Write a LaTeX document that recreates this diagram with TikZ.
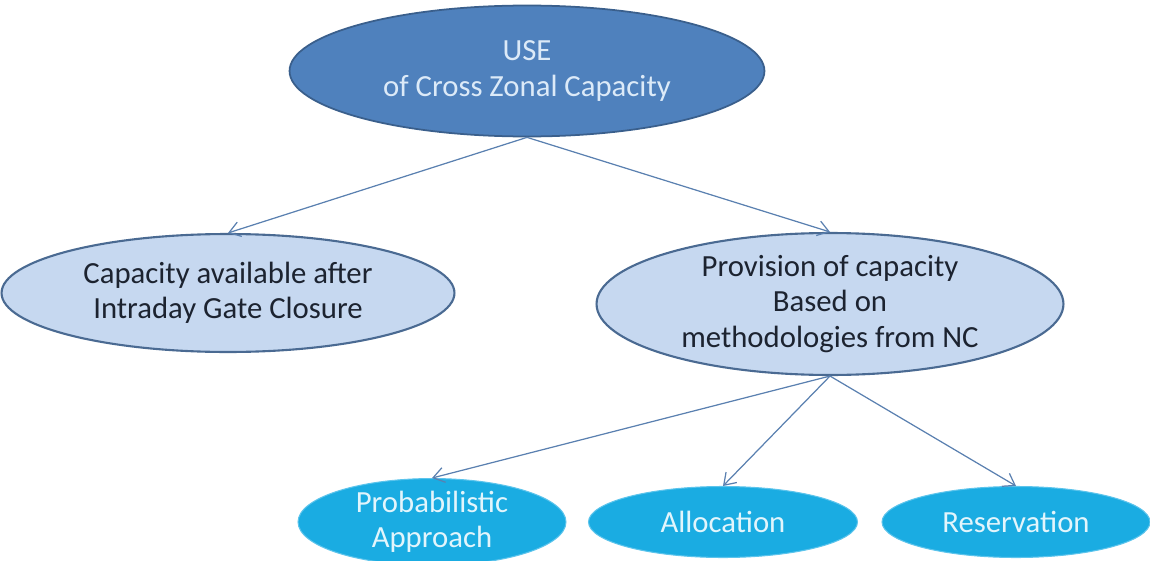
\documentclass[tikz,border=0pt]{standalone}
\usepackage{fontspec}
\setmainfont{Carlito}
\usetikzlibrary{shapes.geometric, arrows.meta}
\definecolor{topfill}{HTML}{4F81BD}
\definecolor{topline}{HTML}{3A5F8C}
\definecolor{toptext}{HTML}{DCEAF8}
\definecolor{midfill}{HTML}{C6D8F0}
\definecolor{midline}{HTML}{4A6A92}
\definecolor{midtext}{HTML}{1C2330}
\definecolor{lowfill}{HTML}{1AACE2}
\definecolor{lowline}{HTML}{5CC4EC}
\definecolor{lowtext}{HTML}{E2F5FC}
\definecolor{arrowc}{HTML}{5A80B0}
\tikzset{
  topell/.style={ellipse, draw=topline, line width=1pt, fill=topfill, inner sep=0pt,
    text=toptext, align=center, font=\fontsize{17.5}{20.5}\selectfont},
  midell/.style={ellipse, draw=midline, line width=1.2pt, fill=midfill, inner sep=0pt,
    text=midtext, align=center, font=\fontsize{17.5}{20}\selectfont},
  lowell/.style={ellipse, draw=lowline, line width=0.6pt, fill=lowfill, inner sep=0pt,
    text=lowtext, align=center, font=\fontsize{17.5}{20}\selectfont},
  link/.style={draw=arrowc, line width=0.7pt, -{Straight Barb[length=2.2mm, width=3mm]}}
}
\begin{document}
\begin{tikzpicture}[x=0.02cm, y=-0.02cm]
  \useasboundingbox (0,0) rectangle (1150,561);
  % top
  \node[topell, minimum width=9.5cm, minimum height=2.62cm] (use) at (527,71) {USE\\of Cross Zonal Capacity};
  % middle
  \node[midell, minimum width=9.06cm, minimum height=2.36cm] (after) at (228,293) {Capacity available after\\Intraday Gate Closure};
  \node[midell, minimum width=9.34cm, minimum height=2.84cm] (prov) at (830,304) {Provision of capacity\\Based on\\methodologies from NC};
  % bottom
  \node[lowell, minimum width=5.36cm, minimum height=1.42cm] (prob) at (432,522) {Probabilistic\\Approach};
  \node[lowell, minimum width=5.38cm, minimum height=1.42cm] (alloc) at (723,522) {Allocation};
  \node[lowell, minimum width=5.36cm, minimum height=1.42cm] (reserv) at (1016,522) {Reservation};
  % links
  \draw[link] (use.south) -- (after.north);
  \draw[link] (use.south) -- (prov.north);
  \draw[link] (prov.south) -- (prob.north);
  \draw[link] (prov.south) -- (alloc.north);
  \draw[link] (prov.south) -- (reserv.north);
\end{tikzpicture}
\end{document}
